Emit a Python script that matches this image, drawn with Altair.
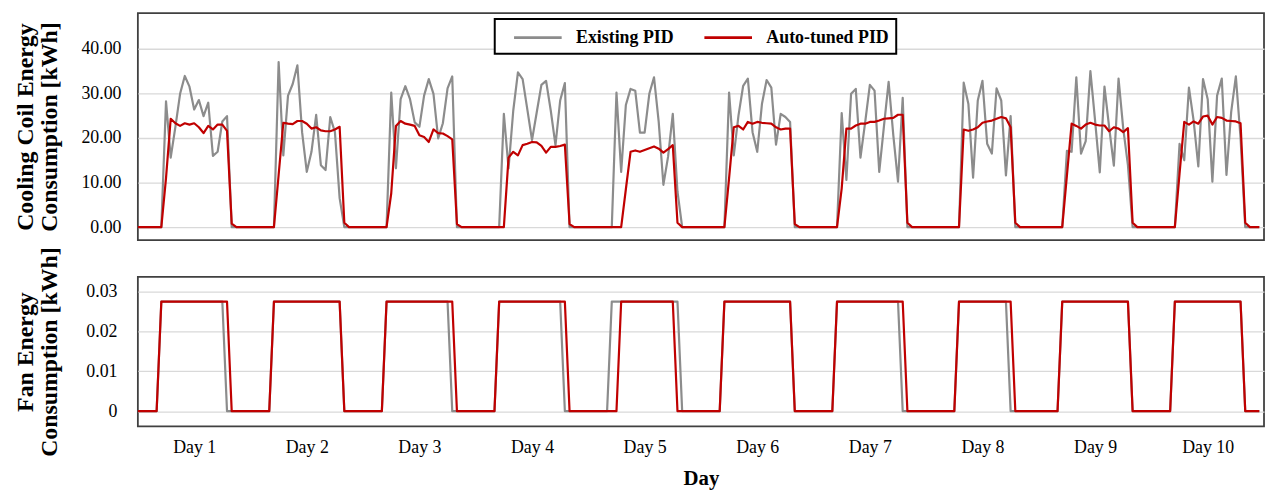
import altair as alt
import pandas as pd

# ---------------- data (hourly, 10 days) ----------------
SERIES = ["Existing PID", "Auto-tuned PID"]
COLORS = ["#8c8c8c", "#c00000"]
DAY_LABEL_HOURS = [12, 36, 60, 84, 108, 132, 156, 180, 204, 228]

# Cooling coil energy [kWh], 24 hourly values per day
cool_existing = [
    [0, 0, 0, 0, 0, 0, 28.2, 15.6, 22.5, 29.9, 33.9, 31.5, 26.4, 28.5, 24.9, 27.9, 16.0, 16.9, 23.7, 24.9, 0, 0, 0, 0],
    [0, 0, 0, 0, 0, 0, 37.0, 16.1, 29.5, 32.1, 36.3, 21.3, 12.4, 16.9, 25.2, 13.9, 12.8, 24.7, 21.3, 6.5, 0, 0, 0, 0],
    [0, 0, 0, 0, 0, 0, 30.2, 13.2, 28.7, 31.6, 28.7, 23.5, 22.5, 29.5, 33.2, 29.9, 19.9, 23.3, 31.1, 33.8, 0, 0, 0, 0],
    [0, 0, 0, 0, 0, 0, 25.4, 13.2, 26.1, 34.7, 33.2, 26.4, 19.5, 25.7, 31.9, 32.8, 26.1, 18.4, 28.4, 32.3, 0, 0, 0, 0],
    [0, 0, 0, 0, 0, 0, 30.2, 12.4, 27.4, 31.0, 30.6, 21.2, 21.2, 29.9, 33.6, 23.6, 9.5, 15.8, 25.4, 8.0, 0, 0, 0, 0],
    [0, 0, 0, 0, 0, 0, 30.2, 16.1, 25.0, 31.7, 33.3, 21.3, 16.9, 27.6, 33.0, 31.3, 18.5, 25.4, 24.7, 23.6, 0, 0, 0, 0],
    [0, 0, 0, 0, 0, 0, 25.6, 10.6, 29.9, 31.0, 15.6, 23.5, 31.9, 30.6, 12.4, 22.6, 32.6, 20.6, 10.2, 29.0, 0, 0, 0, 0],
    [0, 0, 0, 0, 0, 0, 0, 0, 32.4, 27.6, 11.1, 28.4, 32.8, 18.7, 16.5, 31.1, 28.4, 11.6, 24.9, 0, 0, 0, 0, 0],
    [0, 0, 0, 0, 0, 0, 17.1, 16.9, 33.6, 16.5, 19.3, 35.0, 23.9, 12.3, 31.5, 22.4, 13.8, 33.3, 22.1, 13.9, 0, 0, 0, 0],
    [0, 0, 0, 0, 0, 0, 18.7, 15.0, 31.3, 23.9, 13.6, 33.2, 28.7, 10.2, 29.5, 33.3, 11.7, 25.8, 33.8, 20.0, 0, 0, 0, 0],
]
cool_auto = [
    [0, 0, 0, 0, 0, 0, 11.0, 24.3, 23.3, 22.7, 23.3, 23.0, 23.3, 22.4, 21.1, 22.7, 21.9, 23.0, 23.0, 21.6, 0.8, 0, 0, 0],
    [0, 0, 0, 0, 0, 0, 11.7, 23.4, 23.2, 23.1, 23.8, 23.8, 23.2, 22.1, 22.4, 21.7, 21.5, 21.5, 21.9, 22.5, 1.0, 0, 0, 0],
    [0, 0, 0, 0, 0, 0, 7.6, 22.7, 23.8, 23.2, 23.0, 22.7, 20.6, 20.2, 19.1, 21.9, 21.1, 21.0, 20.4, 19.7, 0.7, 0, 0, 0],
    [0, 0, 0, 0, 0, 0, 0, 15.6, 16.9, 16.1, 18.4, 18.7, 19.1, 19.0, 18.2, 16.7, 18.0, 18.0, 18.2, 18.5, 0.7, 0, 0, 0],
    [0, 0, 0, 0, 0, 0, 0, 0, 8.5, 16.9, 17.2, 16.9, 17.3, 17.7, 18.1, 17.6, 16.7, 17.5, 18.4, 1.0, 0, 0, 0, 0],
    [0, 0, 0, 0, 0, 0, 11.0, 22.4, 22.7, 21.9, 23.6, 23.2, 23.6, 23.4, 23.3, 23.2, 22.4, 21.9, 22.1, 22.1, 0.7, 0, 0, 0],
    [0, 0, 0, 0, 0, 0, 8.7, 22.1, 22.1, 22.8, 23.2, 23.2, 23.6, 23.6, 23.9, 24.3, 24.4, 24.5, 25.2, 25.2, 1.0, 0, 0, 0],
    [0, 0, 0, 0, 0, 0, 0, 0, 21.9, 21.6, 21.9, 22.4, 23.4, 23.7, 23.9, 24.3, 24.7, 24.4, 22.4, 1.0, 0, 0, 0, 0],
    [0, 0, 0, 0, 0, 0, 11.6, 23.2, 22.7, 22.1, 23.0, 23.4, 23.0, 22.8, 22.8, 21.5, 22.4, 22.1, 21.3, 22.2, 1.0, 0, 0, 0],
    [0, 0, 0, 0, 0, 0, 12.0, 23.6, 23.0, 23.7, 23.2, 24.8, 25.0, 23.0, 24.7, 24.5, 23.9, 23.8, 23.7, 23.3, 1.0, 0, 0, 0],
]

# Fan energy [kWh], 24 hourly values per day (F = on-level)
F = 0.0275
fan_existing = [
    [0, 0, 0, 0, 0, F, F, F, F, F, F, F, F, F, F, F, F, F, F, 0, 0, 0, 0, 0],
    [0, 0, 0, 0, 0, F, F, F, F, F, F, F, F, F, F, F, F, F, F, F, 0, 0, 0, 0],
    [0, 0, 0, 0, 0, F, F, F, F, F, F, F, F, F, F, F, F, F, F, 0, 0, 0, 0, 0],
    [0, 0, 0, 0, 0, F, F, F, F, F, F, F, F, F, F, F, F, F, F, 0, 0, 0, 0, 0],
    [0, 0, 0, 0, 0, F, F, F, F, F, F, F, F, F, F, F, F, F, F, F, 0, 0, 0, 0],
    [0, 0, 0, 0, 0, F, F, F, F, F, F, F, F, F, F, F, F, F, F, F, 0, 0, 0, 0],
    [0, 0, 0, 0, 0, F, F, F, F, F, F, F, F, F, F, F, F, F, F, 0, 0, 0, 0, 0],
    [0, 0, 0, 0, 0, 0, 0, F, F, F, F, F, F, F, F, F, F, F, 0, 0, 0, 0, 0, 0],
    [0, 0, 0, 0, 0, F, F, F, F, F, F, F, F, F, F, F, F, F, F, F, 0, 0, 0, 0],
    [0, 0, 0, 0, 0, F, F, F, F, F, F, F, F, F, F, F, F, F, F, F, 0, 0, 0, 0],
]
fan_auto = [
    [0, 0, 0, 0, 0, F, F, F, F, F, F, F, F, F, F, F, F, F, F, F, 0, 0, 0, 0],
    [0, 0, 0, 0, 0, F, F, F, F, F, F, F, F, F, F, F, F, F, F, F, 0, 0, 0, 0],
    [0, 0, 0, 0, 0, F, F, F, F, F, F, F, F, F, F, F, F, F, F, F, 0, 0, 0, 0],
    [0, 0, 0, 0, 0, F, F, F, F, F, F, F, F, F, F, F, F, F, F, F, 0, 0, 0, 0],
    [0, 0, 0, 0, 0, 0, 0, F, F, F, F, F, F, F, F, F, F, F, F, 0, 0, 0, 0, 0],
    [0, 0, 0, 0, 0, F, F, F, F, F, F, F, F, F, F, F, F, F, F, F, 0, 0, 0, 0],
    [0, 0, 0, 0, 0, F, F, F, F, F, F, F, F, F, F, F, F, F, F, F, 0, 0, 0, 0],
    [0, 0, 0, 0, 0, 0, 0, F, F, F, F, F, F, F, F, F, F, F, F, 0, 0, 0, 0, 0],
    [0, 0, 0, 0, 0, F, F, F, F, F, F, F, F, F, F, F, F, F, F, F, 0, 0, 0, 0],
    [0, 0, 0, 0, 0, F, F, F, F, F, F, F, F, F, F, F, F, F, F, F, 0, 0, 0, 0],
]


def to_frame(days, series):
    rows = []
    for d, vals in enumerate(days):
        for i, v in enumerate(vals):
            rows.append({"hour": d * 24 + i, "value": v, "series": series})
    return pd.DataFrame(rows)


cool_ex_df = to_frame(cool_existing, SERIES[0])
cool_au_df = to_frame(cool_auto, SERIES[1])
fan_ex_df = to_frame(fan_existing, SERIES[0])
fan_au_df = to_frame(fan_auto, SERIES[1])

FONT = "Liberation Serif"
W = 1136
x_scale = alt.Scale(domain=[0, 240], nice=False, zero=False)
color_scale = alt.Scale(domain=SERIES, range=COLORS)

legend = alt.Legend(
    orient="none", legendX=360, legendY=6, direction="horizontal", title=None,
    symbolType="M-2.5,0L2.5,0", symbolSize=369, symbolStrokeWidth=3,
    labelFont=FONT, labelFontSize=18, labelFontWeight="bold", labelColor="black",
    padding=7, strokeColor="black", fillColor="white",
    columnPadding=18, labelOffset=27, symbolOffset=25,
)

y_top_axis = alt.Axis(
    values=[0, 10, 20, 30, 40], format=".2f", grid=True, ticks=False, domain=False,
    labelPadding=17, labelFont=FONT, labelFontSize=18, labelColor="black",
    title=["Cooling Coil Energy", "Consumption [kWh]"], titleFont=FONT, titleFontSize=24,
    titleFontWeight="bold", titleColor="black", titleAngle=270, titleX=-125,
    titleBaseline="top", titleAlign="center", titleLineHeight=24,
    gridColor="#d9d9d9", gridWidth=1.3,
)
y_bot_axis = alt.Axis(
    values=[0, 0.01, 0.02, 0.03],
    labelExpr="datum.value == 0 ? '0' : format(datum.value, '.2f')",
    grid=True, ticks=False, domain=False,
    labelPadding=21, labelFont=FONT, labelFontSize=18, labelColor="black",
    title=["Fan Energy", "Consumption [kWh]"], titleFont=FONT, titleFontSize=24,
    titleFontWeight="bold", titleColor="black", titleAngle=270, titleX=-125,
    titleBaseline="top", titleAlign="center", titleLineHeight=24,
    gridColor="#d9d9d9", gridWidth=1.3,
)
x_bot_axis = alt.Axis(
    values=DAY_LABEL_HOURS, labelExpr="'Day ' + (floor(datum.value / 24) + 1)",
    grid=False, ticks=False, domain=False, labelPadding=12,
    labelFont=FONT, labelFontSize=18, labelColor="black",
    title="Day", titleFont=FONT, titleFontSize=21, titleFontWeight="bold",
    titleColor="black", titlePadding=12,
)


def layer(df, y_axis, y_domain, x_axis, leg):
    return alt.Chart(df).mark_line(strokeWidth=2.2, strokeJoin="round").encode(
        x=alt.X("hour:Q", scale=x_scale, axis=x_axis),
        y=alt.Y("value:Q", scale=alt.Scale(domain=y_domain, nice=False, zero=False), axis=y_axis),
        color=alt.Color("series:N", scale=color_scale, legend=leg),
        order="hour:Q",
    )


top = alt.layer(
    layer(cool_ex_df, y_top_axis, [-2.9, 48.0], None, legend),
    layer(cool_au_df, y_top_axis, [-2.9, 48.0], None, legend),
).properties(width=W, height=229)

bottom = alt.layer(
    layer(fan_ex_df, y_bot_axis, [-0.00385, 0.03375], x_bot_axis, None),
    layer(fan_au_df, y_bot_axis, [-0.00385, 0.03375], x_bot_axis, None),
).properties(width=W, height=151)

chart = alt.vconcat(top, bottom, spacing=37, bounds="flush").resolve_scale(color="independent").properties(
    padding={"left": 5, "top": 2, "right": 0, "bottom": 2}
).configure_view(stroke="#404040", strokeWidth=1.8).configure_legend(strokeWidth=2)

chart.save("out.html", embed_options={"renderer": "svg", "actions": False})
